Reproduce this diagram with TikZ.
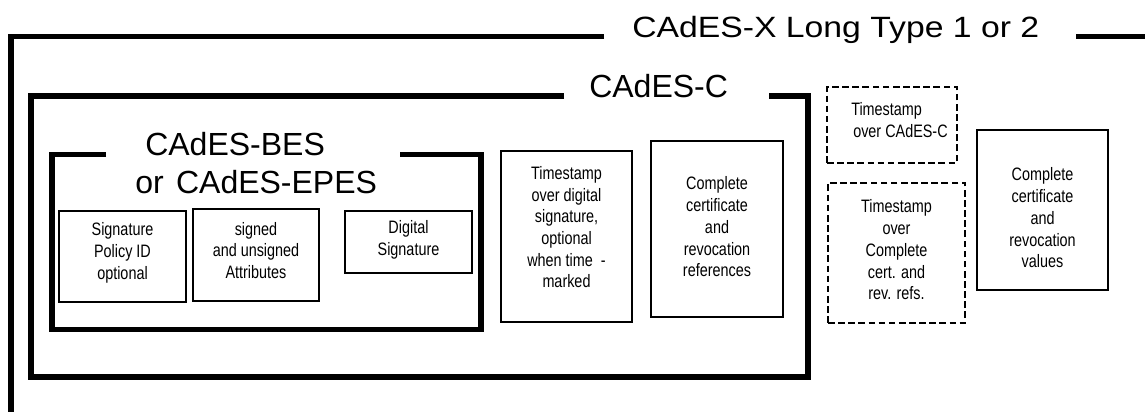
\documentclass[tikz,border=0pt]{standalone}
\usepackage{fontspec}
\usepackage{graphicx}
\setmainfont{Liberation Sans}
\newfontfamily\narrowfont[FakeStretch=0.8]{Liberation Sans}
\newcommand\smallfont{\narrowfont\fontsize{13.5}{16.3}\selectfont}
\usetikzlibrary{fit}
\begin{document}
\begin{tikzpicture}[x=0.75pt,y=-0.75pt,
  frame/.style={line width=4.1pt, line join=miter},
  box/.style={draw, line width=1.1pt, inner sep=0pt},
  dbox/.style={box, dash pattern=on 5pt off 2.6pt, line width=1.5pt},
  lbl/.style={inner sep=0pt, align=center, font=\smallfont},
  big/.style={inner sep=0pt, anchor=base west, font=\fontsize{24}{28}\selectfont}]
\useasboundingbox (0,0) rectangle (1145,412);

% CAdES-X frame
\draw[frame] (604,36.5) -- (11,36.5) -- (11,412);
\draw[frame] (1076,36.5) -- (1145,36.5);
\node[big, font=\fontsize{22}{26}\selectfont] (xtitle) at (632,37.5) {\scalebox{1.15}[1]{CAdES-X Long Type 1 or 2}};

% CAdES-C frame
\draw[frame] (564,96) -- (31,96) -- (31,377) -- (808,377) -- (808,96) -- (769,96);
\node[big] (ctitle) at (589,97) {CAdES-C};

% CAdES-BES frame
\draw[frame] (106,154.5) -- (52,154.5) -- (52,329.5) -- (481,329.5) -- (481,154.5) -- (400,154.5);
\node[big] (bestitle) at (145,155) {CAdES-BES};
\node[big] (epestitle) at (135,193) {or\ \hspace{2.6pt}CAdES-EPES};

% inner boxes
\node[box, fit={(59,211) (186,302)}] (sigpol) {};
\node[lbl] (sigpoltext) at ([yshift=2.6pt]sigpol.center) {Signature\\Policy ID\\optional};
\node[box, fit={(193,209) (319,301)}] (attrs) {};
\node[lbl] (attrstext) at ([yshift=3.4pt]attrs.center) {signed\\and unsigned\\Attributes};
\node[box, fit={(345,211) (472,273)}] (digsig) {};
\node[lbl, font=\narrowfont\fontsize{13.5}{17}\selectfont] (digsigtext) at ([yshift=1.5pt]digsig.center) {Digital\\Signature};
\node[box, fit={(501,151) (632,322)}] (tsds) {};
\node[lbl] (tsdstext) at ([yshift=7pt]tsds.center) {Timestamp\\over digital\\signature,\\optional\\when time\ \ -\\marked};
\node[box, fit={(651,141) (783,317)}] (crefs) {};
\node[lbl] (crefstext) at ([yshift=1.5pt]crefs.center) {Complete\\certificate\\and\\revocation\\references};

% CAdES-X additions
\node[dbox, fit={(827,87) (957,163)}] (tsc) {};
\node[lbl, align=left, anchor=west] (tsctext) at (851,120) {Timestamp\\\hspace*{1.5pt}over CAdES-C};
\node[dbox, fit={(828,183) (965,323)}] (tsrefs) {};
\node[lbl] (tsrefstext) at ([yshift=2.25pt]tsrefs.center) {Timestamp\\over\\Complete\\cert. and\\rev. refs.};
\node[box, fit={(977,130) (1108,290)}] (cvals) {};
\node[lbl] (cvalstext) at ([yshift=-6pt]cvals.center) {Complete\\certificate\\and\\revocation\\values};
\end{tikzpicture}
\end{document}
